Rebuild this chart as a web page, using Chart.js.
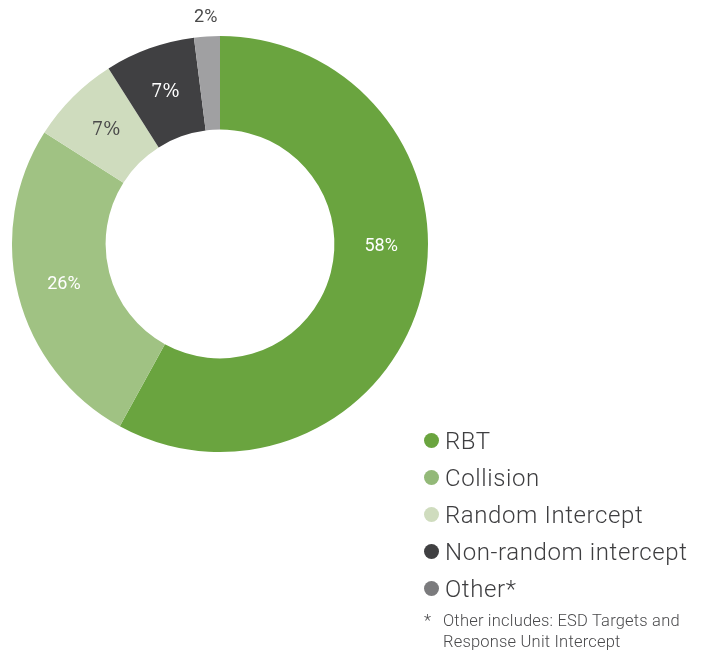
<!DOCTYPE html>
<html>
<head>
<meta charset="utf-8">
<script src="https://cdn.jsdelivr.net/npm/chart.js@4.4.0/dist/chart.umd.min.js"></script>
<style>
  html, body { margin:0; padding:0; background:#fff; }
  #wrap { position:relative; width:704px; height:650px; }
  #c { position:absolute; left:0; top:0; }
  #legend { position:absolute; left:424px; top:422px; font-family:Roboto, 'Liberation Sans', sans-serif; color:#3e3e40; }
  .row { display:flex; align-items:center; height:37px; font-size:24px; font-weight:300; letter-spacing:0.6px; }
  .dot { width:15px; height:15px; border-radius:50%; margin-right:6px; flex:none; }
  #note { display:flex; font-size:16.5px; font-weight:300; line-height:21px; margin-top:3px; color:#4a4a4c; letter-spacing:0.2px; }
  #note .ast { width:19px; flex:none; }
</style>
</head>
<body>
<div id="wrap">
  <canvas id="c" width="704" height="650"></canvas>
  <div id="legend"></div>
</div>
<script>
const LABELS = ['RBT', 'Collision', 'Random Intercept', 'Non-random intercept', 'Other*'];
const VALUES = [58, 26, 7, 7, 2];
const SLICE_COLORS = ['#6aa43f', '#a0c283', '#cfdcbe', '#404042', '#a0a0a2'];
const DOT_COLORS = ['#6aa43f', '#93b978', '#cfdcbe', '#404042', '#7b7b7d'];
const LABEL_COLORS = ['#ffffff', '#ffffff', '#4a4a4a', '#ffffff', '#4a4a4a'];
const FOOTNOTE = 'Other includes: ESD Targets and Response Unit Intercept';

// legend
let leg = document.getElementById('legend');
LABELS.forEach((l, i) => {
    let r = document.createElement('div'); r.className = 'row';
    let d = document.createElement('span'); d.className = 'dot'; d.style.background = DOT_COLORS[i];
    let t = document.createElement('span'); t.innerText = l;
    r.appendChild(d); r.appendChild(t); leg.appendChild(r);
});
let note = document.createElement('div'); note.id = 'note';
note.innerHTML = '<span class="ast">*</span><span style="width:262px">' + FOOTNOTE + '</span>';
leg.appendChild(note);

// percentage labels drawn on the arcs
const sliceLabels = {
    id: 'sliceLabels',
    afterDatasetsDraw(chart, args, opts) {
        const ctx = chart.ctx;
        const meta = chart.getDatasetMeta(0);
        meta.data.forEach((arc, i) => {
            const p = arc.getProps(['x', 'y', 'startAngle', 'endAngle', 'innerRadius', 'outerRadius'], true);
            let ang = (p.startAngle + p.endAngle) / 2 + (opts.angleShift[i] || 0);
            let r = (p.innerRadius + p.outerRadius) / 2;
            if (opts.outside[i]) r = p.outerRadius + 19;
            ctx.save();
            ctx.fillStyle = LABEL_COLORS[i];
            ctx.font = opts.serif[i] ? '400 18px "DejaVu Serif", serif' : '400 18px Roboto, "Liberation Sans", sans-serif';
            ctx.textAlign = 'center'; ctx.textBaseline = 'middle';
            ctx.fillText(VALUES[i] + '%', p.x + Math.cos(ang) * r, p.y + Math.sin(ang) * r);
            ctx.restore();
        });
    }
};

new Chart(document.getElementById('c').getContext('2d'), {
    type: 'doughnut',
    data: { labels: LABELS, datasets: [{ data: VALUES, backgroundColor: SLICE_COLORS, borderWidth: 0 }] },
    options: {
        responsive: false, animation: false, cutout: '55%',
        layout: { padding: { left: 12, top: 36, right: 276, bottom: 198 } },
        plugins: {
            legend: { display: false }, tooltip: { enabled: false },
            sliceLabels: { angleShift: [-0.235, 0, 0, 0, 0], outside: [false, false, false, false, true], serif: [false, false, true, true, false] }
        }
    },
    plugins: [sliceLabels]
});
</script>
</body>
</html>
